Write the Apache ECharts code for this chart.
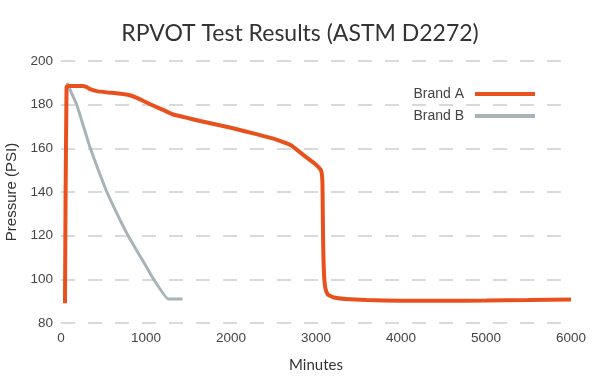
<!DOCTYPE html>
<html><head><meta charset="utf-8">
<script src="https://cdn.jsdelivr.net/npm/echarts@6/dist/echarts.min.js"></script>
<style>html,body{margin:0;padding:0;background:#fff}#c{width:600px;height:384px}</style>
</head><body><div id="c"></div>
<script>
const title = "RPVOT Test Results (ASTM D2272)";
const xName = "Minutes";
const yName = "Pressure (PSI)";
const seriesNames = ["Brand A", "Brand B"];
const brandA = [[47,89],[65,188.2],[100,188.6],[250,188.6],[300,188.1],[350,187.0],[420,186.2],[550,185.6],[700,185.0],[800,184.4],[900,183.0],[1050,180.2],[1200,177.6],[1320,175.5],[1450,174.3],[1650,172.4],[2000,169.4],[2300,166.5],[2550,163.8],[2700,161.5],[2850,157.0],[3000,152.5],[3060,149.8],[3075,145],[3080,130],[3085,115],[3095,102],[3110,96],[3140,93],[3200,91.8],[3350,91.0],[3600,90.5],[4000,90.2],[4500,90.2],[5000,90.3],[5500,90.5],[6000,90.8]];
const brandB = [[70,190],[185,180],[265,170],[345,160],[440,150],[540,140],[660,130],[790,120],[940,110],[1090,100],[1260,91],[1430,91]];
const xMin = 0, xMax = 6000, xStep = 1000;
const yMin = 80, yMax = 200, yStep = 20;

const chart = echarts.init(document.getElementById('c'));
const tfont = 'Lato, "Noto Sans", sans-serif';
const font = '"Liberation Sans", Arial, sans-serif';
chart.setOption({
  animation: false,
  title: {text: title, left: 'center', top: 17,
    textStyle: {fontFamily: tfont, fontSize: 23, fontWeight: 'normal', color: '#333'}},
  legend: {orient: 'vertical', right: 60, top: 82, align: 'right', itemWidth: 60, itemHeight: 4, itemGap: 8,
    data: seriesNames.map(n => ({name: n, icon: 'rect'})),
    textStyle: {fontFamily: font, fontSize: 14, color: '#444', padding: [0, 6, 0, 0]}},
  grid: {left: 61, right: 29, top: 61, bottom: 61, containLabel: false, outerBoundsMode: 'none'},
  xAxis: {type: 'value', min: xMin, max: xMax, interval: xStep, name: xName, nameLocation: 'middle', nameGap: 35,
    nameTextStyle: {fontFamily: tfont, fontSize: 15, color: '#333'},
    axisLine: {show: false}, axisTick: {show: false},
    axisLabel: {fontFamily: font, fontSize: 13.5, color: '#444', margin: 8, formatter: v => String(v)},
    splitLine: {show: false}},
  yAxis: {type: 'value', min: yMin, max: yMax, interval: yStep, name: yName, nameLocation: 'middle', nameGap: 38,
    nameTextStyle: {fontFamily: font, fontSize: 15, color: '#333'},
    axisLine: {show: false}, axisTick: {show: false},
    axisLabel: {fontFamily: font, fontSize: 13.5, color: '#444', margin: 8},
    splitLine: {show: true, lineStyle: {color: '#c9ced1', width: 1.5, type: [14, 13]}}},
  series: [
    {name: seriesNames[0], type: 'line', data: brandA, showSymbol: false, smooth: 0.15,
     lineStyle: {color: '#E8501E', width: 4}, itemStyle: {color: '#E8501E'}, z: 3},
    {name: seriesNames[1], type: 'line', data: brandB, showSymbol: false, smooth: 0.1,
     lineStyle: {color: '#A8B3B8', width: 3}, itemStyle: {color: '#A8B3B8'}, z: 2}
  ]
});
</script></body></html>
